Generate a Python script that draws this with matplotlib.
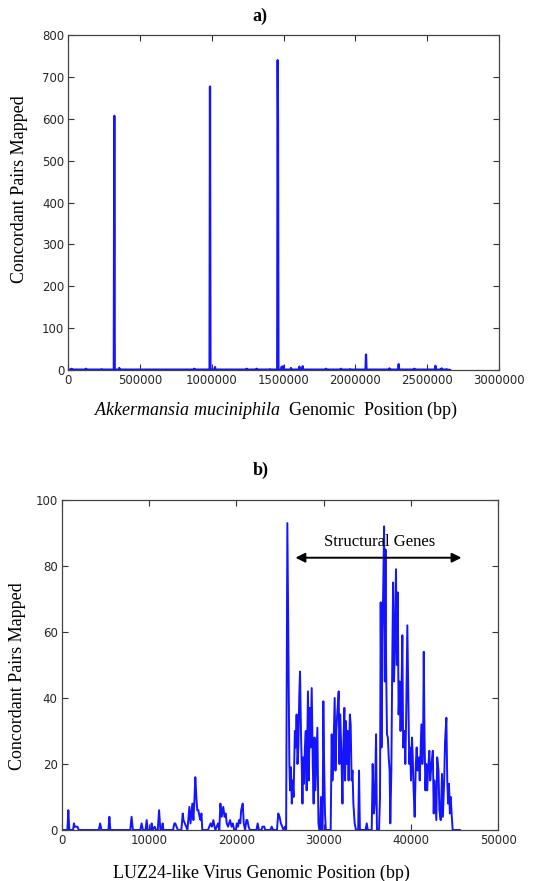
import numpy as np
import matplotlib
matplotlib.use("Agg")
import matplotlib.pyplot as plt

plt.rcParams['mathtext.fontset'] = 'custom'
plt.rcParams['mathtext.rm'] = 'Liberation Serif'
plt.rcParams['mathtext.it'] = 'Liberation Serif:italic'

# panel a: Akkermansia genome coverage (bp, count)
a_pos = [0, 20000, 23200, 26000, 120000, 123000, 126000, 229000, 232000, 235000,
         317000, 320400, 323500, 352000, 355000, 358000, 874700, 877700, 880700,
         983900, 986900, 990000, 1018700, 1021700, 1024700, 1239300, 1242300, 1245300,
         1308900, 1311900, 1314900, 1401800, 1404800, 1407800,
         1455000, 1458200, 1460500, 1463500, 1483000, 1486000, 1492000, 1497700, 1500700,
         1548100, 1551100, 1554100, 1606200, 1609200, 1612200, 1629400, 1632400, 1635400,
         1791900, 1794900, 1797900, 1896400, 1899400, 1902400, 1959000, 1962000, 1965000,
         2070000, 2073500, 2077000, 2233100, 2236100, 2239100, 2298100, 2301100, 2304100,
         2407200, 2410200, 2413200, 2553500, 2556500, 2559500, 2597600, 2600600, 2603600,
         2632000, 2635000, 2638000, 2658700]
a_cnt = [1, 1, 3, 1, 1, 3, 1, 1, 2, 1,
         1, 607, 1, 1, 5, 1, 1, 3, 1,
         1, 677, 1, 1, 7, 1, 1, 3, 1,
         1, 3, 1, 1, 2, 1,
         1, 740, 595, 1, 1, 8, 1, 9, 1,
         1, 5, 1, 1, 8, 1, 1, 9, 1,
         1, 3, 1, 1, 3, 1, 1, 2, 1,
         1, 37, 1, 1, 4, 1, 1, 14, 1,
         1, 3, 1, 1, 10, 1, 1, 4, 1,
         1, 2, 1, 0]

# panel b: LUZ24-like virus coverage (bp, count)
b_pos = [0, 650, 760, 870, 1300, 1400, 1500, 1650, 1800, 1950,
         4250, 4400, 4550, 5350, 5460, 5570, 7850, 8000, 8150, 9000,
         9150, 9300, 9600, 9730, 9850, 10200, 10300, 10400, 10650, 10800,
         11000, 11150, 11300, 11450, 11560, 11650, 12750, 12900, 13000, 13150,
         13300, 13700, 13860, 13950, 14100, 14250, 14400, 14620, 14750, 14850,
         14960, 15080, 15180, 15300, 15420, 15520, 15650, 15780, 15900, 16000,
         16100, 16750, 16900, 17050, 17200, 17370, 17500, 17600, 17900, 18050,
         18170, 18320, 18500, 18650, 18780, 18900, 19050, 19280, 19450, 19600,
         19750, 19950, 20050, 20200, 20300, 20450, 20550, 20730, 20850, 21000,
         21150, 21260, 21400, 21550, 22300, 22440, 22580, 22880, 22980, 23100,
         23200, 23300, 23900, 24050, 24200, 24650, 24800, 24950, 25100, 25250,
         25400, 25570, 25700,
         25840, 25920, 26000, 26070, 26150, 26250, 26350, 26450, 26550, 26700,
         26800, 26900, 27000, 27100, 27200, 27290, 27400, 27500, 27570, 27650,
         27750, 27850, 27950, 28050, 28200, 28300, 28400, 28500, 28630, 28750,
         28850, 28950, 29050, 29150, 29280, 29400, 29500, 29580, 29700, 29800,
         29880, 29960, 30050, 30150, 30250, 30800, 30920, 31000, 31100, 31260,
         31350, 31450, 31550, 31720, 31800, 31900, 32050, 32150, 32250, 32370,
         32450, 32550, 32650, 32750, 32850, 33000, 33090, 33200, 33300, 33400,
         33550, 33700, 33950, 34050, 34150, 34800, 34930, 35050, 35500, 35610,
         35750, 35850, 36000, 36100, 36340, 36450, 36530, 36620, 36720, 36800,
         36920, 37000, 37080, 37150, 37250, 37350, 37450, 37550, 37630, 37750,
         37850, 37950, 38050, 38150, 38280, 38380, 38480, 38580, 38700, 38800,
         38900, 39010, 39100, 39250, 39350, 39450, 39580, 39700, 39800, 39900,
         40000, 40110, 40200, 40300, 40420, 40550, 40650, 40750, 40900, 41000,
         41190, 41300, 41380, 41460, 41550, 41650, 41750, 41850, 41950, 42100,
         42200, 42350, 42500, 42600, 42700, 42900, 43000, 43150, 43250, 43400,
         43550, 43650, 43800, 43900, 44050, 44150, 44250, 44350, 44450, 44550,
         44650, 44770, 45600]
b_cnt = [0, 0, 6, 0, 0, 2, 1, 1, 1, 0,
         0, 2, 0, 0, 4, 0, 0, 4, 0, 0,
         2, 0, 0, 3, 0, 0, 2, 0, 1, 0,
         0, 6, 0, 0, 2, 0, 0, 2, 2, 1,
         0, 0, 5, 3, 2, 1, 0, 7, 2, 5,
         8, 3, 8, 16, 10, 6, 6, 4, 3, 5,
         0, 0, 1, 2, 1, 3, 1, 0, 2, 0,
         8, 4, 7, 4, 5, 2, 1, 3, 1, 2,
         0, 0, 2, 1, 3, 2, 6, 8, 2, 0,
         3, 3, 1, 0, 0, 2, 0, 0, 1, 1,
         1, 0, 0, 1, 0, 0, 5, 4, 2, 1,
         0, 1, 0,
         93, 67, 40, 20, 12, 19, 8, 15, 10, 30,
         25, 35, 20, 25, 40, 48, 30, 18, 8, 22,
         14, 25, 30, 12, 42, 15, 37, 25, 43, 20,
         8, 28, 12, 20, 31, 2, 0, 0, 10, 0,
         0, 39, 20, 5, 0, 0, 29, 15, 22, 40,
         18, 30, 35, 42, 20, 35, 20, 8, 25, 37,
         15, 33, 20, 30, 15, 35, 32, 15, 18, 8,
         2, 0, 0, 18, 0, 0, 2, 0, 0, 20,
         5, 8, 29, 0, 0, 10, 69, 25, 60, 70,
         92, 45, 85, 50, 29, 28, 22, 18, 2, 18,
         50, 75, 45, 55, 79, 50, 72, 35, 45, 30,
         40, 59, 25, 30, 20, 35, 62, 40, 20, 25,
         15, 28, 22, 12, 4, 20, 25, 18, 22, 15,
         32, 20, 25, 54, 28, 12, 20, 12, 18, 24,
         15, 20, 24, 5, 15, 3, 22, 18, 6, 3,
         17, 4, 15, 27, 34, 15, 8, 14, 5, 10,
         5, 0, 0]

a_xticks = [0, 500000, 1000000, 1500000, 2000000, 2500000, 3000000]
a_yticks = [0, 100, 200, 300, 400, 500, 600, 700, 800]
b_xticks = [0, 10000, 20000, 30000, 40000, 50000]
b_yticks = [0, 20, 40, 60, 80, 100]

serif = 'Liberation Serif'
fig = plt.figure(figsize=(5.49, 8.81), dpi=100)


def style_axes(ax, xticks, yticks):
    ax.set_xticks(xticks)
    ax.set_yticks(yticks)
    ax.set_xticklabels([str(t) for t in xticks])
    ax.tick_params(direction='in', top=True, right=True, length=4.5, width=0.8,
                   labelsize=8.5, colors='#333333', labelcolor='#262626', pad=3)
    for s in ax.spines.values():
        s.set_color('#444444')
        s.set_linewidth(0.9)


ax1 = fig.add_axes([0.1244, 0.580, 0.7846, 0.3802])
ax1.plot(a_pos, a_cnt, color='#1414ff', lw=1.6)
ax1.set_xlim(0, 3000000)
ax1.set_ylim(0, 800)
style_axes(ax1, a_xticks, a_yticks)

ax2 = fig.add_axes([0.1124, 0.0579, 0.7953, 0.3746])
ax2.plot(b_pos, b_cnt, color='#1414ff', lw=1.4)
ax2.set_xlim(0, 50000)
ax2.set_ylim(0, 100)
style_axes(ax2, b_xticks, b_yticks)

ax2.annotate('', xy=(26450, 82.5), xytext=(46100, 82.5),
             arrowprops=dict(arrowstyle='<|-|>', color='k', lw=1.4, mutation_scale=14))
ax2.text(36450, 87.4, 'Structural Genes', ha='center', va='center',
         family=serif, fontsize=12)

fig.text(0.474, 0.981, 'a)', ha='center', va='center', family=serif,
         fontweight='bold', fontsize=13)
fig.text(0.475, 0.4665, 'b)', ha='center', va='center', family=serif,
         fontweight='bold', fontsize=13)

fig.text(0.035, 0.785, 'Concordant Pairs Mapped', rotation=90, ha='center',
         va='center', family=serif, fontsize=13)
fig.text(0.031, 0.232, 'Concordant Pairs Mapped', rotation=90, ha='center',
         va='center', family=serif, fontsize=13)

fig.text(0.502, 0.5346, r'$\it{Akkermansia\ muciniphila}$  Genomic  Position (bp)',
         ha='center', va='center', family=serif, fontsize=13)
fig.text(0.477, 0.009, 'LUZ24-like Virus Genomic Position (bp)',
         ha='center', va='center', family=serif, fontsize=13)

fig.savefig('out.png', dpi=100)
